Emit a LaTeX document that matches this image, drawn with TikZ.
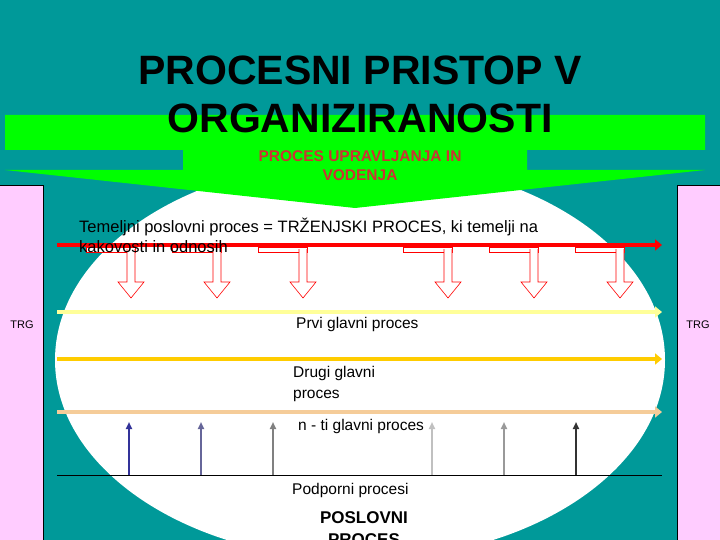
\documentclass[tikz,border=0pt]{standalone}
\usepackage{fontspec}
\setmainfont{Liberation Sans}
\usetikzlibrary{arrows.meta}
\definecolor{teal1}{HTML}{009999}
\definecolor{pinkp}{HTML}{FFCCFF}
\definecolor{grn}{HTML}{00FF00}
\definecolor{redt}{HTML}{CC3333}
\definecolor{ylw1}{HTML}{FFFF99}
\definecolor{gold1}{HTML}{FFCC00}
\definecolor{tan1}{HTML}{F5CC99}
\tikzset{
  proc/.style={line width=4.5pt,-{Triangle[length=7pt,width=11pt]}},
  uparr/.style={line width=2pt,-{Triangle[length=7pt,width=6pt]}},
  hollow/.style={draw=red,fill=white,line width=0.6pt},
  lbl/.style={font=\fontsize{15.5}{18}\selectfont,align=left,inner sep=0pt},
}
\begin{document}
\begin{tikzpicture}[x=1pt,y=-1pt]
\useasboundingbox (0,0) rectangle (720,540);
\fill[teal1] (0,0) rectangle (720,540);
\fill[white] (360,360) ellipse [x radius=305, y radius=200];
\draw[fill=pinkp] (-1,185) rectangle (43,541);
\draw[fill=pinkp] (677,185) rectangle (721,541);
\node (trgl) at (22,325) {\fontsize{11}{12}\selectfont TRG};
\node (trgr) at (698,325) {\fontsize{11}{12}\selectfont TRG};
% green arrow
\fill[grn] (5,115) -- (705,115) -- (705,150) -- (527,150) -- (527,170) -- (705,170)
  -- (355,208) -- (5,170) -- (183,170) -- (183,150) -- (5,150) -- cycle;
\node[align=center,font=\fontsize{41}{48}\selectfont\bfseries] (title) at (360,94) {PROCESNI PRISTOP V\\ORGANIZIRANOSTI};
\node[align=center,text=redt,font=\fontsize{15.5}{19}\selectfont\bfseries] (upr) at (360,166) {PROCES UPRAVLJANJA IN\\VODENJA};
% hollow arrows
\foreach \x in {131,217,303,448,534,620}{
  \draw[hollow] (\x-45,247) rectangle (\x+4,252);
  \draw[hollow] (\x-4,249) -- (\x-4,282) -- (\x-13,282) -- (\x,298) -- (\x+13,282) -- (\x+4,282) -- (\x+4,249);
}
\coordinate (rs) at (57,245); \coordinate (re) at (662,245);
\draw[proc,red] (rs) -- (re);
\node[lbl,anchor=north west,font=\fontsize{16.5}{20}\selectfont] (tem) at (79,218) {Temeljni poslovni proces = TRŽENJSKI PROCES, ki temelji na\\kakovosti in odnosih};
\coordinate (a1) at (57,312); \coordinate (b1) at (662,312);
\coordinate (a2) at (57,359); \coordinate (b2) at (662,359);
\coordinate (a3) at (57,412); \coordinate (b3) at (662,412);
\draw[proc,ylw1] (a1) -- (b1);
\draw[proc,gold1] (a2) -- (b2);
\draw[proc,tan1] (a3) -- (b3);
\node[lbl,anchor=west] (p1) at (296,324) {Prvi glavni proces};
\node[lbl,anchor=north west,font=\fontsize{15.5}{21}\selectfont] (p2) at (293,366) {Drugi glavni\\proces};
\node[lbl,anchor=west] (p3) at (298,426) {n - ti glavni proces};
\coordinate (s1) at (57,475); \coordinate (s2) at (662,475);
\draw[black,line width=0.8pt] (s1) -- (s2);
\foreach \x/\c in {129/333399,201/666699,273/808080,432/C0C0C0,504/999999,576/333333}{
  \definecolor{cc}{HTML}{\c}
  \draw[uparr,cc] (\x,475) -- (\x,422);
}
\node[lbl,anchor=west] (pod) at (292,490) {Podporni procesi};
\node[align=center,font=\fontsize{17}{22}\selectfont\bfseries] (pos) at (364,529) {POSLOVNI\\PROCES};
\end{tikzpicture}
\end{document}
